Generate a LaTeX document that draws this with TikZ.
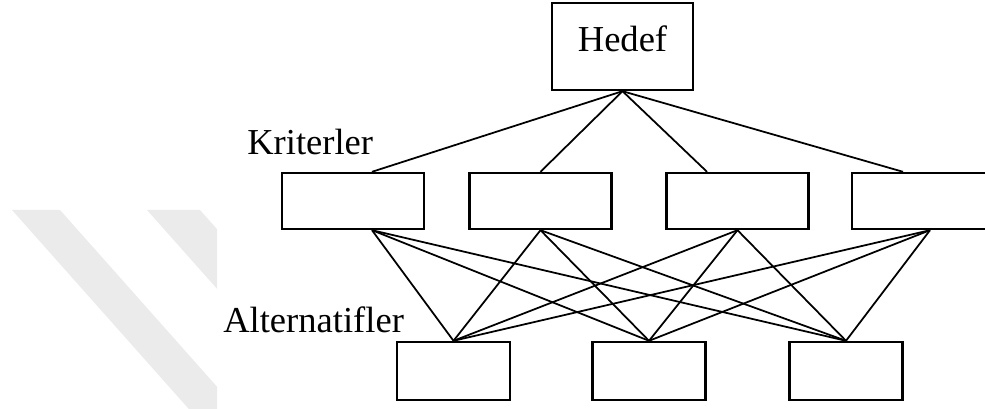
\documentclass[tikz,border=0pt]{standalone}
\usepackage{fontspec}
\setmainfont{Liberation Serif}
\usetikzlibrary{calc}

\tikzset{
	kutu/.style={draw, line width=1.7pt, fill=white, inner sep=0pt},
	baglanti/.style={line width=1.25pt},
	baslik/.style={inner sep=0pt, font=\fontsize{26}{30}\selectfont}
}

\begin{document}
\begin{tikzpicture}
		\clip (0,0) rectangle (24.625,10.225);

		% Watermark
		\begin{scope}
			\clip (0,0) rectangle (5.425,10.225);
			\fill[black!8] (0.3,4.975) -- (1.5,4.975) -- (5.92,0) -- (4.72,0) -- cycle;
			\fill[black!8] (3.675,4.975) -- (5.0,4.975) -- (9.42,0) -- (8.095,0) -- cycle;
		\end{scope}

		% Hedef
		\node[kutu, minimum width=3.525cm, minimum height=2.175cm, font=\fontsize{26}{30}\selectfont, text depth=0.4cm] (hedef) at (15.5625,9.0625) {Hedef};

		% Kriterler
		\node[baslik, anchor=base west] (kriterler) at (6.175,6.35) {Kriterler};
		\node[kutu, minimum width=3.55cm, minimum height=1.4cm] (k1) at (8.825,5.2) {};
		\node[kutu, minimum width=3.55cm, minimum height=1.4cm] (k2) at (13.5125,5.2) {};
		\node[kutu, minimum width=3.55cm, minimum height=1.4cm] (k3) at (18.4375,5.2) {};
		\node[kutu, minimum width=3.55cm, minimum height=1.4cm] (k4) at (23.075,5.2) {};

		% Alternatifler
		\node[baslik, anchor=base west] (alternatifler) at (5.575,1.9) {Alternatifler};
		\node[kutu, minimum width=2.825cm, minimum height=1.45cm] (a1) at (11.3375,0.95) {};
		\node[kutu, minimum width=2.825cm, minimum height=1.45cm] (a2) at (16.225,0.95) {};
		\node[kutu, minimum width=2.825cm, minimum height=1.45cm] (a3) at (21.15,0.95) {};

		% Hedef to Kriterler
		\draw[baglanti] (hedef.south) -- ([xshift=0.475cm]k1.north);
		\draw[baglanti] (hedef.south) -- (k2.north);
		\draw[baglanti] (hedef.south) -- ([xshift=-0.7625cm]k3.north);
		\draw[baglanti] (hedef.south) -- ([xshift=-0.5cm]k4.north);

		% Kriterler to Alternatifler
		\coordinate (b1) at ([xshift=0.475cm]k1.south);
		\coordinate (b2) at (k2.south);
		\coordinate (b3) at (k3.south);
		\coordinate (b4) at ([xshift=0.175cm]k4.south);
		\foreach \k in {b1,b2,b3,b4}
			\foreach \a in {a1,a2,a3}
				\draw[baglanti] (\k) -- (\a.north);
	\end{tikzpicture}
\end{document}
